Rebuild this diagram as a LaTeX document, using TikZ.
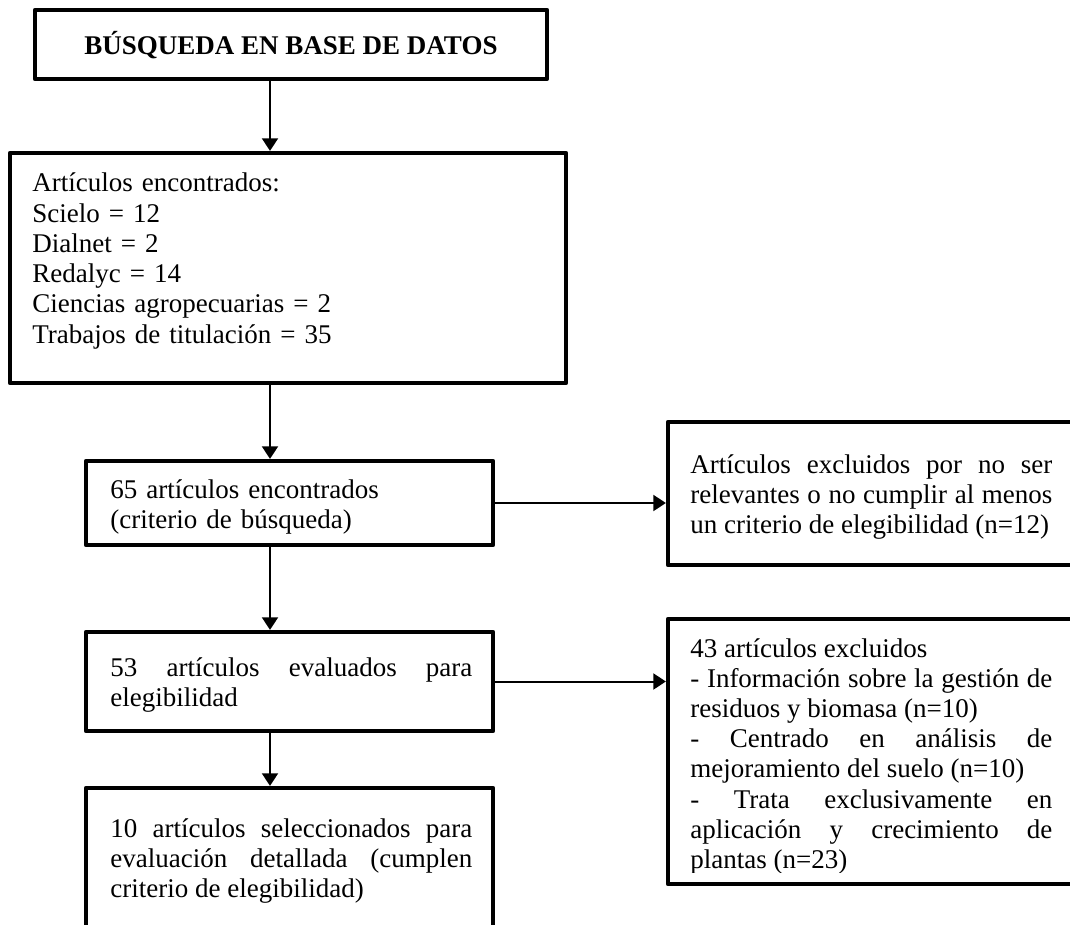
\documentclass[tikz,border=0pt]{standalone}
\usepackage{fontspec}
\setmainfont{Liberation Serif}
\usetikzlibrary{arrows.meta}
\tikzset{
  boxnode/.style={draw, line width=2.1pt, line join=round, inner sep=0pt, minimum width=#1},
  boxnode/.default=203.5pt,
  txt/.style={anchor=base west, inner sep=0pt, text width=181pt, align=justify, font=\fontsize{13.5pt}{15.1pt}\selectfont},
  conn/.style={line width=1pt, -{Triangle[length=6.3pt,width=8pt]}}
}
\begin{document}
\begin{tikzpicture}[x=0.5pt,y=-0.5pt]
\useasboundingbox (0,0) rectangle (1070,925);
\clip (0,0) rectangle (1070,925);
\coordinate (axis) at (270,0);
% boxes
\node[boxnode=256pt, minimum height=34.5pt] (b1) at (291,44.5) {};
\node[boxnode=278pt, minimum height=115pt] (b2) at (288,268) {};
\node[boxnode, minimum height=42pt] (b3) at (289.5,503) {};
\node[boxnode, minimum height=49.5pt] (b4) at (289.5,681.5) {};
\node[boxnode, minimum height=76pt] (b5) at (289.5,864) {};
\node[boxnode=211pt, minimum height=71.5pt] (r1) at (879,493.5) {};
\node[boxnode=211pt, minimum height=132.5pt] (r2) at (879,751.5) {};
% texts
\node[anchor=base, inner sep=0pt, font=\fontsize{13.5pt}{15.1pt}\selectfont\bfseries] (t1) at (291,55) {BÚSQUEDA EN BASE DE DATOS};
\node[txt, text width=260pt, align=left] (t2) at (32,192) {Artículos encontrados:\\Scielo = 12\\Dialnet = 2\\Redalyc = 14\\Ciencias agropecuarias = 2\\Trabajos de titulación = 35};
\node[txt, align=left] (t3) at (110,498) {65 artículos encontrados\\(criterio de búsqueda)};
\node[txt] (t4) at (110,676) {53 artículos evaluados para\linebreak elegibilidad};
\node[txt] (t5) at (110,837) {10 artículos seleccionados para\linebreak evaluación detallada (cumplen\linebreak criterio de elegibilidad)};
\node[txt] (t6) at (690,473) {Artículos excluidos por no ser\linebreak relevantes o no cumplir al menos\linebreak un criterio de elegibilidad (n=12)};
\begin{scope}
\clip (660,600) rectangle (1070,872);
\node[txt] (t7) at (690,657) {43 artículos excluidos\par
- Información sobre la gestión de\linebreak residuos y biomasa (n=10)\par
- Centrado en análisis de\linebreak mejoramiento del suelo (n=10)\par
- Trata exclusivamente en\linebreak aplicación y crecimiento de\linebreak plantas (n=23)};
\end{scope}
% connectors
\draw[conn] (b1.south -| axis) -- (b2.north -| axis);
\draw[conn] (b2.south -| axis) -- (b3.north -| axis);
\draw[conn] (b3.south -| axis) -- (b4.north -| axis);
\draw[conn] (b4.south -| axis) -- (b5.north -| axis);
\draw[conn] (b3.east) -- (r1.west |- b3.east);
\draw[conn] (b4.east) -- (r2.west |- b4.east);
\end{tikzpicture}
\end{document}
